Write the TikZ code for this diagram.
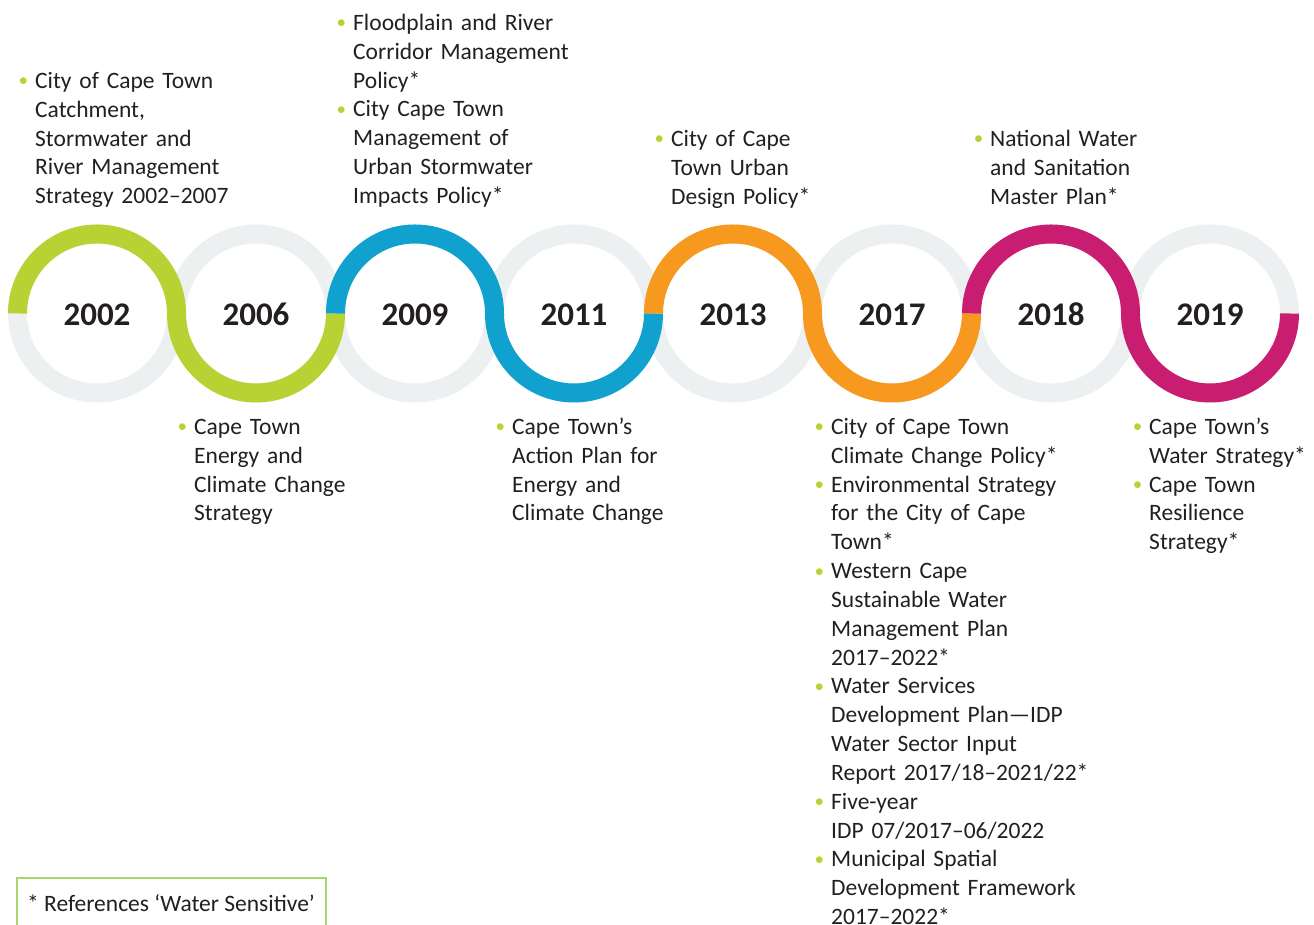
\documentclass[tikz,border=0pt]{standalone}
\usepackage{fontspec}
\setmainfont{Carlito}
\definecolor{cgreen}{HTML}{B8D234}
\definecolor{cblue}{HTML}{11A1CF}
\definecolor{corange}{HTML}{F7981F}
\definecolor{cmag}{HTML}{C91D71}
\definecolor{cgrey}{HTML}{ECF0F1}
\definecolor{ctext}{HTML}{231F20}
\definecolor{cbox}{HTML}{A6D96A}
\newcommand\bul{\leavevmode\llap{\textcolor{cgreen}{\fontsize{19}{19}\selectfont\raisebox{1.6pt}{•}}\hspace{7pt}}}
\begin{document}
\begin{tikzpicture}[x=1pt,y=1pt,
  ring/.style={draw=cgrey,line width=19pt},
  half/.style={line width=19pt,line cap=butt},
  year/.style={font=\fontsize{33}{33}\selectfont\bfseries,text=ctext,inner sep=0pt},
  items/.style={anchor=base west,inner sep=0pt,text width=320pt,align=left,
    font=\fontsize{23.5}{28.83}\selectfont,text=ctext},
  legendtext/.style={anchor=base west,inner sep=0pt,font=\fontsize{23.5}{28.83}\selectfont,text=ctext}]
\useasboundingbox (0,0) rectangle (1314,925);
% centres
\foreach \n/\x in {2002/97,2006/256,2009/415,2011/574,2013/733,2017/892,2018/1051,2019/1210}{
  \coordinate (c\n) at (\x,611.5);
  \draw[ring] (c\n) circle[radius=79.5];
}
% coloured halves
\draw[half,draw=cgreen] (17.5,611.5) arc[start angle=180,end angle=0,radius=79.5]
   arc[start angle=180,end angle=360,radius=79.5];
\draw[half,draw=cblue] (335.5,611.5) arc[start angle=180,end angle=0,radius=79.5]
   arc[start angle=180,end angle=360,radius=79.5];
\draw[half,draw=corange] (653.5,611.5) arc[start angle=180,end angle=0,radius=79.5]
   arc[start angle=180,end angle=360,radius=79.5];
\draw[half,draw=cmag] (971.5,611.5) arc[start angle=180,end angle=0,radius=79.5]
   arc[start angle=180,end angle=360,radius=79.5];
% years
\foreach \n in {2002,2006,2009,2011,2013,2017,2018,2019}{
  \node[year] (y\n) at ([yshift=-1pt]c\n) {\n};
}
% items above
\node[items] (t2002) at (35,836.5) {\bul City of Cape Town\\Catchment,\\Stormwater and\\River Management\\Strategy 2002–2007};
\node[items] (t2009) at (353,894.5) {\bul Floodplain and River\\Corridor Management\\Policy*\\\bul City Cape Town\\Management of\\Urban Stormwater\\Impacts Policy*};
\node[items] (t2013) at (671,778.5) {\bul City of Cape\\Town Urban\\Design Policy*};
\node[items] (t2018) at (990,778.5) {\bul National Water\\and Sanitation\\Master Plan*};
% items below
\node[items] (t2006) at (194,490.5) {\bul Cape Town\\Energy and\\Climate Change\\Strategy};
\node[items] (t2011) at (512,490.5) {\bul Cape Town’s\\Action Plan for\\Energy and\\Climate Change};
\node[items] (t2017) at (831,490.5) {\bul City of Cape Town\\Climate Change Policy*\\\bul Environmental Strategy\\for the City of Cape\\Town*\\\bul Western Cape\\Sustainable Water\\Management Plan\\2017–2022*\\\bul Water Services\\Development Plan—IDP\\Water Sector Input\\Report 2017/18–2021/22*\\\bul Five-year\\IDP 07/2017–06/2022\\\bul Municipal Spatial\\Development Framework\\2017–2022*};
\node[items] (t2019) at (1149,490.5) {\bul Cape Town’s\\Water Strategy*\\\bul Cape Town\\Resilience\\Strategy*};
% legend box
\coordinate (lbl) at (17,-10);
\coordinate (ltl) at (17,47);
\coordinate (ltr) at (326,47);
\coordinate (lbr) at (326,-10);
\draw[cbox,line width=1.5pt] (lbl) -- (ltl) -- (ltr) -- (lbr);
\node[legendtext] (legend) at (27,13) {* References ‘Water Sensitive’};
\end{tikzpicture}
\end{document}
